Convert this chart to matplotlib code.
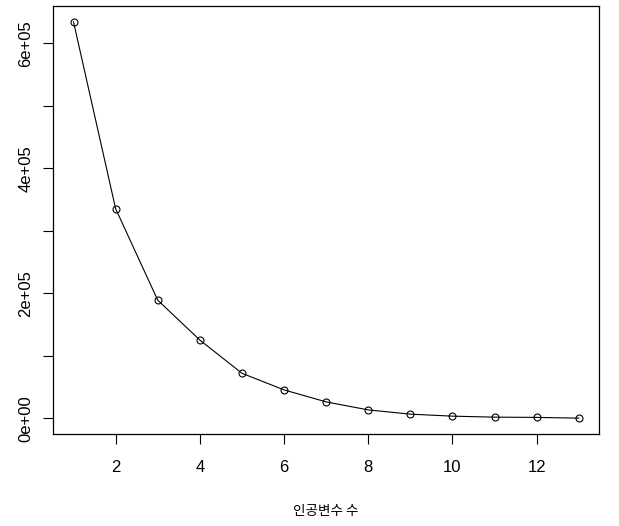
import matplotlib.pyplot as plt

plt.rcParams['font.family'] = ['Liberation Sans', 'DejaVu Sans']

# number of artificial variables vs. criterion value
n_vars = [1, 2, 3, 4, 5, 6, 7, 8, 9, 10, 11, 12, 13]
values = [634600, 335700, 189300, 125500, 72300, 45700, 26500,
          13700, 6900, 3700, 2100, 1700, 500]

y_ticks = [0, 100000, 200000, 300000, 400000, 500000, 600000]
y_labels = ['0e+00', '', '2e+05', '', '4e+05', '', '6e+05']
x_ticks = [2, 4, 6, 8, 10, 12]

fig = plt.figure(figsize=(6.19, 5.26), dpi=100)
ax = fig.add_axes([0.0861, 0.1749, 0.8816, 0.8137])

ax.plot(n_vars, values, color='black', linewidth=0.8,
        marker='o', markersize=5, markerfacecolor='none',
        markeredgecolor='black', markeredgewidth=0.8)

span = max(values) - min(values)
ax.set_xlim(1 - 0.04 * 12, 13 + 0.04 * 12)
ax.set_ylim(min(values) - 0.04 * span, max(values) + 0.04 * span)

ax.set_xticks(x_ticks)
ax.set_xticklabels([str(t) for t in x_ticks], fontsize=12)
ax.set_yticks(y_ticks)
ax.set_yticklabels(y_labels, fontsize=12, rotation=90, va='center')

ax.tick_params(axis='x', length=7.5, width=0.8, pad=11)
ax.tick_params(axis='y', length=7.5, width=0.8, pad=7)
for s in ax.spines.values():
    s.set_linewidth(0.9)

fig.text(0.527, 1 - 511 / 526, '인공변수 수', ha='center', va='center',
         fontsize=9.8, family=['Noto Sans CJK KR', 'DejaVu Sans'])

fig.savefig('out.png', dpi=100)
